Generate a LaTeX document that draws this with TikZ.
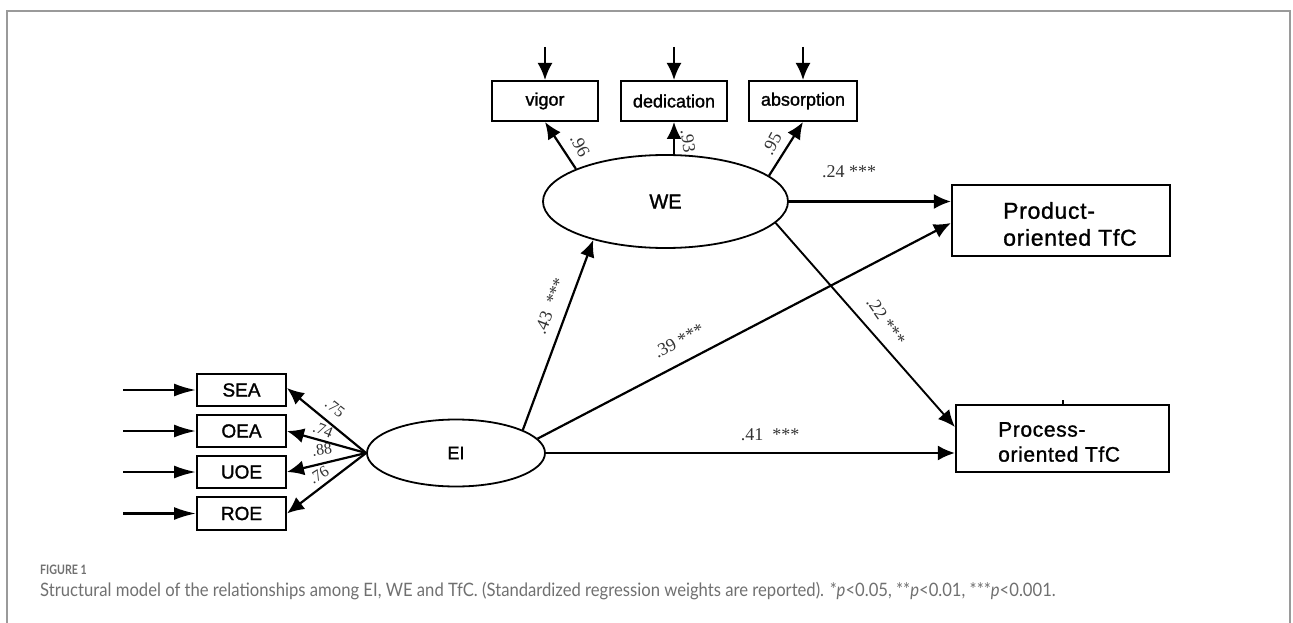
\documentclass[tikz,border=0pt]{standalone}
\usepackage{fontspec}
\setmainfont{Liberation Serif}
\setsansfont{Liberation Sans}
\newfontfamily\nodefont{Liberation Sans}[FakeBold=1.4]
\newfontfamily\bignodefont{Liberation Sans}[FakeBold=1.2,LetterSpace=3]
\newfontfamily\capfont{Lato}[FakeStretch=0.9]
\newfontfamily\figfont{Lato}[FakeStretch=0.82]
\usetikzlibrary{arrows.meta,shapes.geometric}
\definecolor{framegray}{HTML}{9A9A9A}
\definecolor{labgray}{HTML}{333333}
\definecolor{capgray}{HTML}{707070}
\begin{document}
\begin{tikzpicture}[x=1pt,y=-1pt,
  box/.style={draw,line width=2pt,inner sep=0pt,font=\nodefont\fontsize{18}{20}\selectfont},
  sbox/.style={box,minimum width=89pt,font=\nodefont\fontsize{19}{20}\selectfont},
  bigbox/.style={draw,line width=2.2pt,inner sep=0pt},
  bigtext/.style={anchor=west,align=left,inner sep=0pt},
  latent/.style={draw,ellipse,line width=1.8pt,inner sep=0pt,font=\nodefont\fontsize{18}{20}\selectfont},
  arr/.style={line width=2.2pt,-{Latex[length=17pt,width=15pt]}},
  inarr/.style={line width=2.2pt,-{Latex[length=22pt,width=13pt]}},
  coef/.style={font=\fontsize{18}{20}\selectfont,text=labgray,inner sep=1pt},
  lcoef/.style={font=\fontsize{16}{17}\selectfont,text=labgray,inner sep=0pt}]
\useasboundingbox (0,0) rectangle (1293,623);
% frame
\draw[framegray,line width=1.4pt] (7,623) -- (7,11) -- (1290,11) -- (1290,623);

% latent variables
\node[latent,minimum width=245pt,minimum height=93pt,font=\nodefont\fontsize{20}{22}\selectfont] (WE) at (665.5,201.5) {WE};
\node[latent,minimum width=178pt,minimum height=67pt] (EI) at (456,453) {EI};

% WE indicators
\node[box,minimum width=106pt,minimum height=40pt] (vigor) at (545,101) {vigor};
\node[box,minimum width=106pt,minimum height=40pt] (dedication) at (674,101) {dedication};
\node[box,minimum width=108pt,minimum height=40pt] (absorption) at (803,101) {absorption};

% EI indicators
\node[sbox,minimum height=32pt] (SEA) at (241.5,390) {SEA};
\node[sbox,minimum height=32pt] (OEA) at (241.5,431) {OEA};
\node[sbox,minimum height=32pt] (UOE) at (241.5,472) {UOE};
\node[sbox,minimum height=33pt] (ROE) at (241.5,513.5) {ROE};

% outcomes
\node[bigbox,minimum width=218pt,minimum height=71pt] (Prod) at (1061,220.5) {};
\node[bigtext,font=\bignodefont\fontsize{23}{27}\selectfont] (ProdT) at (1003,224) {Product-\\oriented TfC};
\node[bigbox,minimum width=213pt,minimum height=67pt] (Proc) at (1062.5,438.5) {};
\node[bigtext,font=\bignodefont\fontsize{21}{25}\selectfont] (ProcT) at (998,442) {Process-\\oriented TfC};
\coordinate (tick) at (1063,400);
\draw[line width=1.8pt] (tick) -- (tick |- Proc.north);

% error arrows into WE indicators
\coordinate (ev) at (545,47);
\coordinate (ed) at (674,47);
\coordinate (ea) at (803,47);
\draw[arr] (ev) -- (vigor.north);
\draw[arr] (ed) -- (dedication.north);
\draw[arr] (ea) -- (absorption.north);

% error arrows into EI indicators
\coordinate (e1) at (123,390);
\coordinate (e2) at (123,431);
\coordinate (e3) at (123,472);
\coordinate (e4) at (123,513.5);
\draw[inarr] (e1) -- (SEA.west);
\draw[inarr] (e2) -- (OEA.west);
\draw[inarr] (e3) -- (UOE.west);
\draw[inarr] (e4) -- (ROE.west);

% loadings WE
\draw[arr] (WE.160) -- (vigor.south);
\draw[arr] (dedication.south |- WE.north) -- (dedication.south);
\draw[arr] (WE.14) -- (absorption.south);
\node[coef,rotate=-62] at (580,146) {.96};
\node[coef,rotate=-82] at (688,141) {.93};
\node[coef,rotate=62] at (772,144) {.95};

% loadings EI
\draw[arr] (EI.west) -- ([yshift=2pt]SEA.east);
\draw[arr] (EI.west) -- (OEA.east);
\draw[arr] (EI.west) -- (UOE.east);
\draw[arr] (EI.west) -- (ROE.east);
\node[lcoef,rotate=-38] at (335,408) {.75};
\node[lcoef,rotate=-22] at (323,430) {.74};
\node[lcoef,rotate=8] at (322,450) {.88};
\node[lcoef,rotate=32] at (319,475) {.76};

% structural paths
\draw[arr] (WE.east) -- (WE.east -| Prod.west);
\draw[arr] (EI.10) -- ([yshift=-2.5pt]Prod.west);
\draw[arr] (EI.19) -- (WE.208);
\draw[arr,line width=1.9pt] (WE.349) -- ([yshift=11.5pt]Proc.west);
\draw[arr] (EI.east) -- (EI.east -| Proc.west);

\node[coef] at (849,172) {.24 ***};
\node[coef,rotate=69] at (550,306) {.43 \ ***};
\node[coef,rotate=28] at (679,341) {.39 ***};
\node[coef,rotate=-55] at (886,321) {.22 ***};
\node[coef] at (770,435) {.41 \ ***};

% caption
\node[anchor=base west,inner sep=0pt,text=capgray,font=\figfont\bfseries\fontsize{13}{14}\selectfont] (figlab) at (40,574) {FIGURE 1};
\node[anchor=base west,inner sep=0pt,text=capgray,font=\capfont\fontsize{18.5}{20}\selectfont] (cap) at (40,596) {Structural model of the relationships among EI, WE and TfC. (Standardized regression weights are reported). *\textit{p}<0.05, **\textit{p}<0.01, ***\textit{p}<0.001.};
\end{tikzpicture}
\end{document}
